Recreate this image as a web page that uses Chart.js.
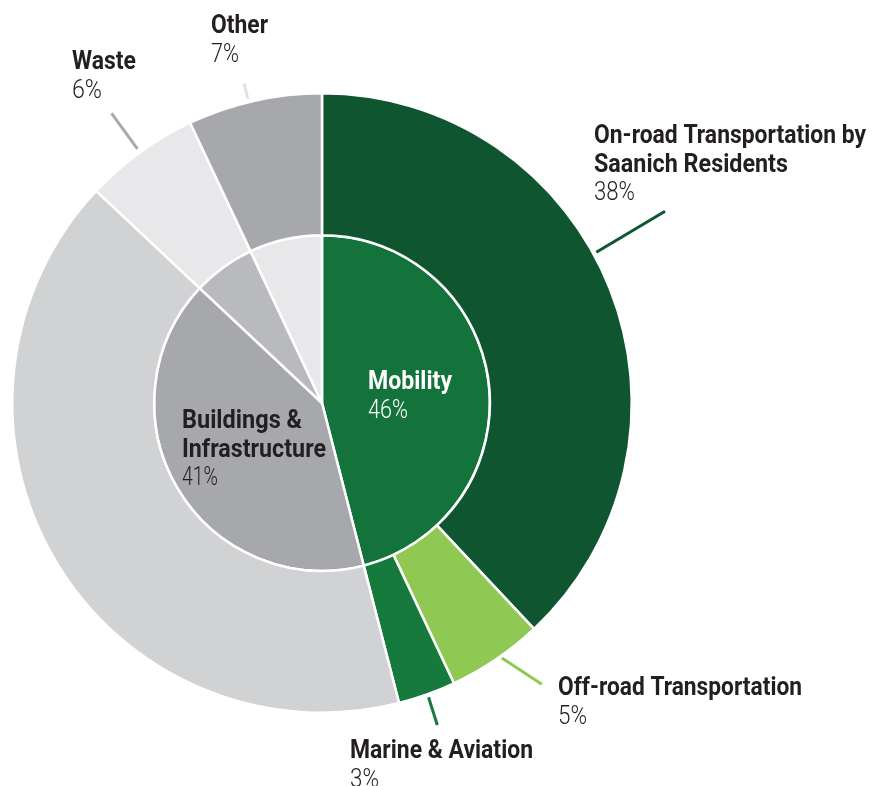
<!DOCTYPE html>
<html><head><meta charset="utf-8">
<script src="https://cdn.jsdelivr.net/npm/chart.js@4"></script>
<style>html,body{margin:0;padding:0;background:#fff}canvas{display:block}</style>
</head><body>
<canvas id="c" width="874" height="786"></canvas>
<script>
// ---- data ----
const subCategories = ['On-road Transportation by Saanich Residents','Off-road Transportation','Marine & Aviation','Buildings & Infrastructure','Waste','Other'];
const subValues = [38, 5, 3, 41, 6, 7];
const sectorCategories = ['Mobility','Buildings & Infrastructure','Waste','Other'];
const sectorValues = [46, 41, 6, 7];

// ---- styles ----
const subColors = ['#0e5530','#8fc953','#157a3c','#d1d2d4','#e8e8ea','#a7a8ab'];
const sectorColors = ['#14733b','#a7a8ab','#b9babd','#e8e8ea'];
const leaderColors = ['#0e5530','#8fc953','#157a3c','#d1d2d4','#a8a9ac','#e2e2e4'];

// label annotations: index into outer (sub) or inner (sector) ring
const labelDefs = [
  {ring:'sub', i:0, x:594, y:143, lines:['On-road Transportation by','Saanich Residents'], widths:[272,194], pctW:41, color:'#231f20', pctColor:'#231f20',
   line:{a0:61.2, r0:313, a1:60.8, r1:393}},
  {ring:'sub', i:1, x:558, y:695, lines:['Off-road Transportation'], widths:[244], pctW:29, color:'#231f20', pctColor:'#231f20',
   line:{a0:144.8, r0:312, a1:142, r1:357}},
  {ring:'sub', i:2, x:350, y:758, lines:['Marine & Aviation'], widths:[183], pctW:29, color:'#231f20', pctColor:'#231f20',
   line:{a0:160.1, r0:313, a1:160.3, r1:342}},
  {ring:'sub', i:4, x:72, y:69, lines:['Waste'], widths:[64], pctW:30, color:'#231f20', pctColor:'#231f20',
   line:{a0:324, r0:314, a1:324, r1:358}},
  {ring:'sub', i:5, x:211, y:33, lines:['Other'], widths:[57], pctW:28, color:'#231f20', pctColor:'#231f20',
   line:{a0:346.3, r0:313, a1:346.3, r1:329}},
  {ring:'sector', i:0, x:368, y:389, lines:['Mobility'], widths:[84], pctW:40, color:'#ffffff', pctColor:'#ffffff'},
  {ring:'sector', i:1, x:182, y:428, lines:['Buildings &','Infrastructure'], widths:[120,144], pctW:36, color:'#231f20', pctColor:'#231f20'}
];

const lineStep = 28.5;

const labelPlugin = {
  id: 'labels',
  afterDraw(chart) {
    const ctx = chart.ctx;
    const arc0 = chart.getDatasetMeta(0).data[0];
    const cx = arc0.x, cy = arc0.y;
    ctx.save();
    labelDefs.forEach(d => {
      const vals = d.ring === 'sub' ? subValues : sectorValues;
      if (d.line) {
        const p = (a, r) => [cx + r * Math.sin(a * Math.PI / 180), cy - r * Math.cos(a * Math.PI / 180)];
        const s = p(d.line.a0, d.line.r0), e = p(d.line.a1, d.line.r1);
        ctx.strokeStyle = leaderColors[d.i];
        ctx.lineWidth = 3;
        ctx.beginPath(); ctx.moveTo(s[0], s[1]); ctx.lineTo(e[0], e[1]); ctx.stroke();
      }
      ctx.textAlign = 'left';
      ctx.textBaseline = 'alphabetic';
      let y = d.y;
      ctx.font = 'bold 26px Roboto, "Liberation Sans", sans-serif';
      ctx.fillStyle = d.color;
      d.lines.forEach((t, k) => {
        ctx.fillText(t, d.x, y, d.widths[k]);
        y += lineStep;
      });
      ctx.font = '300 26px Roboto, "Liberation Sans", sans-serif';
      ctx.fillStyle = d.pctColor;
      ctx.fillText(vals[d.i] + '%', d.x, y, d.pctW);
    });
    ctx.restore();
  }
};

new Chart(document.getElementById('c'), {
  type: 'doughnut',
  data: {
    labels: subCategories,
    datasets: [
      {label: 'Sub-sector', data: subValues, backgroundColor: subColors, borderColor: '#ffffff', borderWidth: 2.5, weight: 142},
      {label: 'Sector', data: sectorValues, backgroundColor: sectorColors, borderColor: '#ffffff', borderWidth: 2.5, weight: 168}
    ]
  },
  options: {
    responsive: false,
    animation: false,
    cutout: 0,
    layout: {padding: {left: 11, right: 241, top: 92, bottom: 72}},
    plugins: {legend: {display: false}, tooltip: {enabled: false}}
  },
  plugins: [labelPlugin]
});
</script>
</body></html>
